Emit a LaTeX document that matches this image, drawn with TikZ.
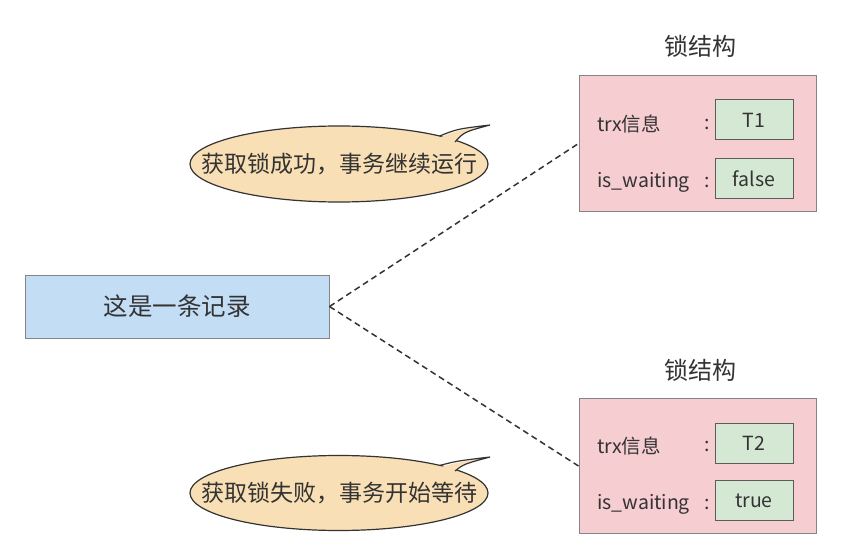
\documentclass[tikz,border=0pt]{standalone}
\usepackage{fontspec}
\setmainfont{Noto Sans CJK SC}
\definecolor{txt}{HTML}{333333}
\definecolor{bluefill}{HTML}{C3DDF5}
\definecolor{pinkfill}{HTML}{F6CDD1}
\definecolor{greenfill}{HTML}{D5E8D4}
\definecolor{peach}{HTML}{F9DFB5}
\definecolor{edgegray}{HTML}{858585}
\tikzset{
  recbox/.style={draw=edgegray, line width=1pt, fill=bluefill, minimum width=304pt, minimum height=63pt, inner sep=0pt, font=\fontsize{24.5}{28}\selectfont, text=txt},
  lockbox/.style={draw=edgegray, line width=1pt, fill=pinkfill, minimum width=237pt, minimum height=135pt, inner sep=0pt},
  valbox/.style={draw=txt!80, line width=1pt, fill=greenfill, minimum width=78pt, minimum height=40pt, inner sep=0pt, font=\fontsize{19.5}{22}\selectfont, text=txt},
  title/.style={font=\fontsize{24}{28}\selectfont, text=txt},
  field/.style={anchor=west, inner sep=0pt, font=\fontsize{19.5}{22}\selectfont, text=txt},
  colon/.style={inner sep=0pt, font=\fontsize{19.5}{22}\selectfont, text=txt},
  bubtext/.style={font=\fontsize{23}{27}\selectfont, text=txt},
  link/.style={draw=txt, line width=1.5pt, dash pattern=on 6pt off 4pt},
  bubedge/.style={draw=txt, line width=1.2pt},
}
\begin{document}
\begin{tikzpicture}[x=1pt,y=-1pt]
\useasboundingbox (0,0) rectangle (841,559);
% record
\node[recbox] (rec) at (177,306.5) {这是一条记录};
% lock structures
\node[lockbox] (lock1) at (697.5,143.5) {};
\node[title] (t1) at (700,46) {锁结构};
\node[valbox] (v1a) at (754,120) {T1};
\node[valbox] (v1b) at (754,178.5) {false};
\node[field] (f1a) at (597,124) {trx信息};
\node[field] (f1b) at (597,182) {is\_waiting};
\node[colon] (c1a) at (707,124) {:};
\node[colon] (c1b) at (707,182) {:};

\node[lockbox] (lock2) at (697.5,466) {};
\node[title] (t2) at (700,370) {锁结构};
\node[valbox] (v2a) at (754,443) {T2};
\node[valbox] (v2b) at (754,500.5) {true};
\node[field] (f2a) at (597,446) {trx信息};
\node[field] (f2b) at (597,504) {is\_waiting};
\node[colon] (c2a) at (707,446) {:};
\node[colon] (c2b) at (707,504) {:};

% connectors
\draw[link] (rec.east) -- (lock1.west);
\draw[link] (rec.east) -- (lock2.west);

% bubble 1
\coordinate (b1c) at (339,164);
\coordinate (b1tip) at (490,125);
\coordinate (b1p) at (439.7,136);
\coordinate (b1q) at (455,142);
\draw[bubedge, fill=peach] (b1c) ellipse [x radius=149, y radius=38];
\fill[peach] (437.6,138.5) .. controls (455,131) .. (b1tip) .. controls (462,133) .. (453,144) -- (440,146) -- cycle;
\draw[bubedge, line join=miter] (b1p) .. controls (457,129) .. (b1tip) .. controls (464,132) .. (b1q);
\node[bubtext] (bt1) at (b1c) {获取锁成功，事务继续运行};

% bubble 2
\coordinate (b2c) at (339,493);
\coordinate (b2tip) at (490,457);
\coordinate (b2p) at (439.7,465.4);
\coordinate (b2q) at (455,471);
\draw[bubedge, fill=peach] (b2c) ellipse [x radius=149, y radius=37.5];
\fill[peach] (437.6,468) .. controls (455,463) .. (b2tip) .. controls (462,465) .. (453,473) -- (440,475) -- cycle;
\draw[bubedge, line join=miter] (b2p) .. controls (457,461) .. (b2tip) .. controls (464,464) .. (b2q);
\node[bubtext] (bt2) at (b2c) {获取锁失败，事务开始等待};
\end{tikzpicture}
\end{document}
